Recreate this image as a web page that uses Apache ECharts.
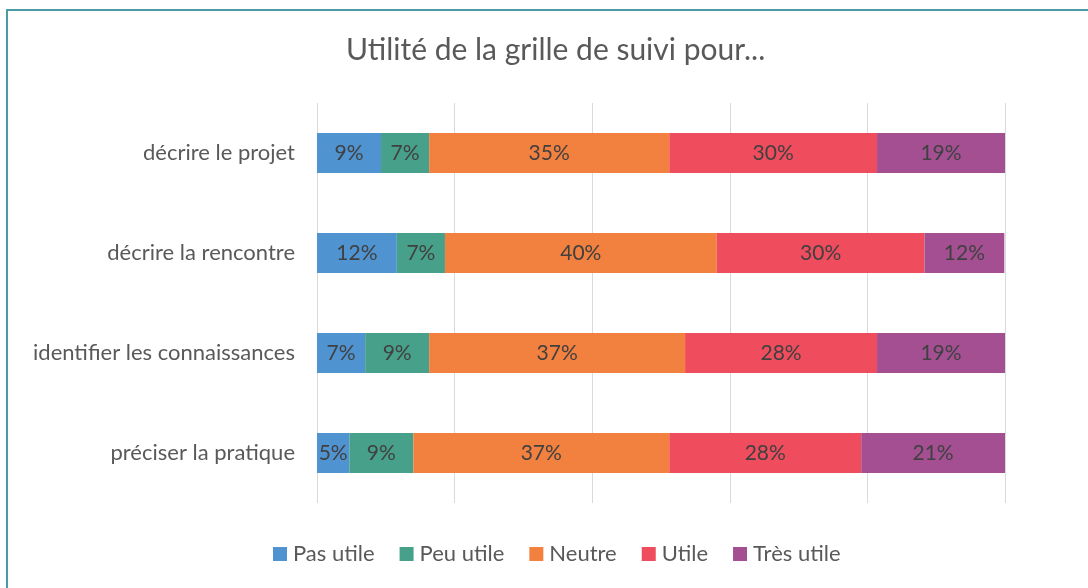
<!DOCTYPE html>
<html>
<head>
<meta charset="utf-8">
<style>
  html, body { margin: 0; padding: 0; background: #fff; }
  #chart { width: 1088px; height: 588px; }
</style>
<script src="https://cdn.jsdelivr.net/npm/echarts@6/dist/echarts.min.js"></script>
</head>
<body>
<div id="chart"></div>
<script>
// categories, top to bottom
const categories = ['décrire le projet', 'décrire la rencontre', 'identifier les connaissances', 'préciser la pratique'];
const seriesNames = ['Pas utile', 'Peu utile', 'Neutre', 'Utile', 'Très utile'];
const colors = ['#4f93d1', '#47a089', '#f2813f', '#ef4c5e', '#a44f92'];

// percentages per answer
const pasUtile = [9.3, 11.6, 7.0, 4.7];
const peuUtile = [7.0, 7.0, 9.3, 9.3];
const neutre = [34.9, 39.5, 37.2, 37.2];
const utile = [30.2, 30.2, 27.9, 27.9];
const tresUtile = [18.6, 11.6, 18.6, 20.9];

const xTicks = [0, 20, 40, 60, 80, 100];

const FONT = 'Lato';
const values = [pasUtile, peuUtile, neutre, utile, tresUtile];

const chart = echarts.init(document.getElementById('chart'));

chart.setOption({
  backgroundColor: '#fff',
  animation: false,
  textStyle: { fontFamily: FONT },
  title: {
    text: 'Utilité de la grille de suivi pour...',
    left: 346,
    top: 35,
    padding: 0,
    textStyle: { fontFamily: FONT, fontSize: 30, fontWeight: 'normal', color: '#595959' }
  },
  graphic: [{
    type: 'rect',
    shape: { x: 7, y: 10, width: 1200, height: 700 },
    style: { fill: 'none', stroke: '#4b9aa6', lineWidth: 2 }
  }],
  legend: {
    top: 538,
    left: 268,
    itemWidth: 14,
    itemHeight: 14,
    itemGap: 25,
    icon: 'rect',
    textStyle: { fontFamily: FONT, fontSize: 22, color: '#595959', padding: [0, 0, 0, 1] },
    data: seriesNames
  },
  grid: { left: 317, right: 83, top: 103, bottom: 85 },
  xAxis: {
    type: 'value',
    min: xTicks[0],
    max: xTicks[xTicks.length - 1],
    interval: xTicks[1] - xTicks[0],
    axisLabel: { show: false },
    axisLine: { show: false },
    axisTick: { show: false },
    splitLine: { lineStyle: { color: '#d9d9d9', width: 1 } }
  },
  yAxis: {
    type: 'category',
    inverse: true,
    data: categories,
    axisLine: { show: false },
    axisTick: { show: false },
    axisLabel: { fontFamily: FONT, fontSize: 22, color: '#595959', margin: 22 }
  },
  series: seriesNames.map((name, i) => ({
    name: name,
    type: 'bar',
    stack: 'total',
    barWidth: 40,
    itemStyle: { color: colors[i] },
    label: {
      show: true,
      position: 'inside',
      fontFamily: FONT,
      fontSize: 21,
      color: '#404040',
      formatter: p => Math.round(p.value) + '%'
    },
    data: values[i]
  }))
});
</script>
</body>
</html>
